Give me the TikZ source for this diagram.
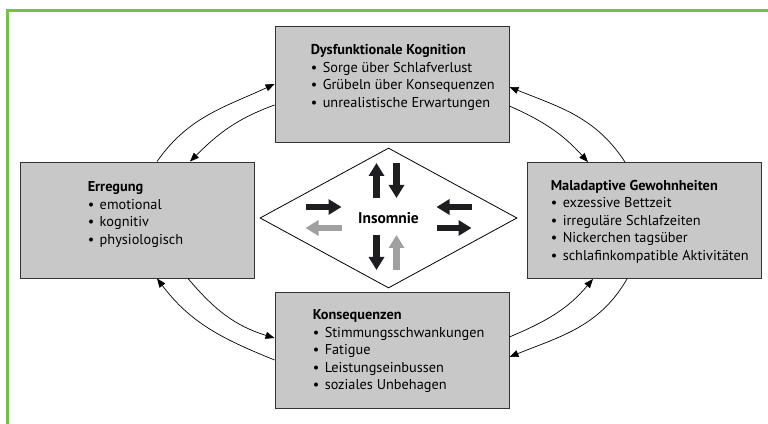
\documentclass[tikz,border=0pt]{standalone}
\usepackage{fontspec}
\setmainfont{PT Sans}
\usetikzlibrary{shapes.geometric,arrows.meta,calc}
\definecolor{boxgray}{RGB}{200,200,200}
\definecolor{framegreen}{RGB}{118,190,78}
\definecolor{arrgray}{RGB}{160,160,160}
\definecolor{arrblack}{RGB}{30,30,32}
\newcommand{\bl}{\makebox[12pt][l]{\textbullet}}

\begin{document}
\begin{tikzpicture}[x=1pt,y=1pt,
    box/.style={draw=black!80, fill=boxgray, line width=0.9pt, minimum width=234pt, minimum height=116pt, inner sep=0pt},
    txt/.style={anchor=north west, align=left, inner sep=0pt, font=\fontsize{14.3}{17.5}\selectfont},
    loop/.style={-{Triangle[length=9pt,width=7pt]}, line width=0.7pt},
    fat/.style={line width=6.5pt, -{Triangle[length=13pt,width=15pt]}}]
    \useasboundingbox (0,0) rectangle (768,423);
    \draw[framegreen, line width=3pt] (7.5,-5) -- (7.5,412.5) -- (775,412.5); % frame

    \node[box] (kog) at (392,339) {};
    \node[box] (erreg) at (137,203) {};
    \node[box] (gew) at (644,202.5) {};
    \node[box] (kons) at (392,73) {};

    \node[txt] (kogtxt) at ([shift={(36,-19)}]kog.north west)
        {\textbf{Dysfunktionale Kognition}\\ \bl Sorge über Schlafverlust\\ \bl Grübeln über Konsequenzen\\ \bl unrealistische Erwartungen};
    \node[txt] (erregtxt) at ([shift={(68,-20)}]erreg.north west)
        {\textbf{Erregung}\\ \bl emotional\\ \bl kognitiv\\ \bl physiologisch};
    \node[txt] (gewtxt) at ([shift={(24,-18)}]gew.north west)
        {\textbf{Maladaptive Gewohnheiten}\\ \bl exzessive Bettzeit\\ \bl irreguläre Schlafzeiten\\ \bl Nickerchen tagsüber\\ \bl schlafinkompatible Aktivitäten};
    \node[txt] (konstxt) at ([shift={(38,-18)}]kons.north west)
        {\textbf{Konsequenzen}\\ \bl Stimmungsschwankungen\\ \bl Fatigue\\ \bl Leistungseinbussen\\ \bl soziales Unbehagen};

    \node[draw, diamond, minimum width=257pt, minimum height=140pt, inner sep=0pt, line width=0.8pt,
        font=\bfseries\fontsize{15.5}{17}\selectfont] (ins) at (388.5,205) {Insomnie};

    % fat arrows in the diamond
    \foreach \xa/\ya/\xb/\yb/\c in {-12/20/-12/55/arrblack, 8/55/8/20/arrblack,
        -83/11/-47/11/arrblack, -47/-10/-83/-10/arrgray,
        83/11/48/11/arrblack, 48/-10/83/-10/arrblack,
        -12/-17/-12/-52/arrblack, 8/-52/8/-17/arrgray}
        \draw[fat,\c] ([shift={(\xa,\ya)}]ins.center) -- ([shift={(\xb,\yb)}]ins.center);

    % loops
    \draw[loop] ([xshift=20pt]erreg.north) to[out=55,in=205] (kog.west);
    \draw[loop] ([yshift=-21pt]kog.west) to[out=200,in=45] ([xshift=53pt]erreg.north);
    \draw[loop] ([xshift=-19pt]gew.north) to[out=123,in=338] ([yshift=-3pt]kog.east);
    \draw[loop] ([yshift=-22pt]kog.east) to[out=-24,in=132] ([xshift=-56pt]gew.north);
    \draw[loop] ([xshift=51pt]erreg.south) to[out=-50,in=163] ([yshift=12pt]kons.west);
    \draw[loop] ([yshift=-10pt]kons.west) to[out=158,in=307] ([xshift=20pt]erreg.south);
    \draw[loop] ([yshift=13pt]kons.east) to[out=23,in=230] ([xshift=-51pt]gew.south);
    \draw[loop] ([xshift=-17pt]gew.south) to[out=240,in=22] ([yshift=-7pt]kons.east);
\end{tikzpicture}
\end{document}
